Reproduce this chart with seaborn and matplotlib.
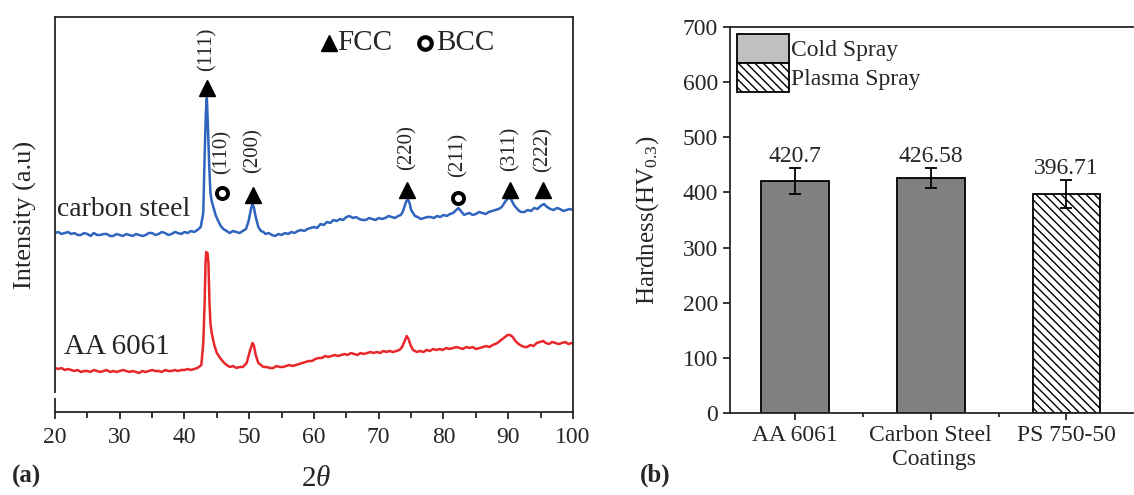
"""
XRD patterns of the cold spray coatings (a) and their hardness (b).
"""

import matplotlib
matplotlib.use("Agg")
import matplotlib.pyplot as plt
from matplotlib.patches import Patch, Rectangle
import numpy as np
import pandas as pd
import seaborn as sns

# ---- (a) XRD patterns (2theta, intensity a.u.) ----
steel_2theta = [
    20.0, 20.5, 21.0, 21.5, 22.0, 22.5, 23.0, 23.5, 24.0, 24.5,
    25.0, 25.5, 26.0, 26.5, 27.0, 27.5, 28.0, 28.5, 29.0, 29.5,
    30.0, 30.5, 31.0, 31.5, 32.0, 32.5, 33.0, 33.5, 34.0, 34.5,
    35.0, 35.5, 36.0, 36.5, 37.0, 37.5, 38.0, 38.5, 39.0, 39.5,
    40.0, 40.5, 41.0, 41.5, 42.0, 42.5, 42.9, 43.1, 43.3, 43.45,
    43.6, 43.8, 44.0, 44.2, 44.5, 44.8, 45.2, 45.6, 46.0, 46.5,
    47.0, 47.5, 48.0, 48.5, 49.0, 49.5, 49.9, 50.3, 50.5, 50.7,
    51.0, 51.4, 51.8, 52.2, 52.5, 53.0, 53.5, 54.0, 54.5, 55.0,
    55.5, 56.0, 56.5, 57.0, 57.5, 58.0, 58.5, 59.0, 59.5, 60.0,
    60.5, 61.0, 61.5, 62.0, 62.5, 63.0, 63.5, 64.0, 64.5, 65.0,
    65.5, 66.0, 66.5, 67.0, 67.5, 68.0, 68.5, 69.0, 69.5, 70.0,
    70.5, 71.0, 71.5, 72.0, 72.5, 73.0, 73.4, 73.7, 74.0, 74.2,
    74.5, 74.8, 75.0, 75.3, 75.6, 76.0, 76.5, 77.0, 77.5, 78.0,
    78.5, 79.0, 79.5, 80.0, 80.5, 81.0, 81.5, 81.8, 82.3, 82.8,
    83.2, 83.5, 84.0, 84.5, 85.0, 85.5, 86.0, 86.5, 87.0, 87.5,
    88.0, 88.5, 89.0, 89.3, 89.6, 90.1, 90.5, 90.8, 91.0, 91.4,
    91.7, 92.0, 92.5, 93.0, 93.5, 94.0, 94.5, 95.0, 95.5, 96.0,
    96.5, 97.0, 97.5, 98.0, 98.5, 99.0, 99.5, 100.0]
steel_counts = [
    180, 181, 179, 180, 181, 179, 180, 178, 178, 180,
    179, 177, 180, 178, 178, 179, 179, 177, 177, 179,
    178, 177, 179, 178, 177, 179, 178, 177, 178, 180,
    180, 178, 179, 181, 180, 178, 179, 181, 180, 179,
    181, 180, 182, 181, 183, 186, 200, 255, 300, 315,
    290, 250, 220, 212, 205, 198, 192, 187, 184, 182,
    180, 182, 181, 180, 182, 184, 192, 205, 209, 206,
    196, 186, 182, 181, 179, 180, 178, 177, 179, 178,
    180, 179, 181, 180, 182, 183, 182, 184, 185, 186,
    185, 189, 188, 191, 190, 193, 192, 194, 193, 196,
    197, 195, 196, 194, 193, 193, 195, 194, 193, 195,
    194, 195, 197, 196, 195, 197, 198, 201, 207, 211,
    214, 209, 203, 200, 197, 196, 194, 195, 196, 196,
    195, 197, 196, 198, 197, 199, 200, 202, 205, 201,
    198, 199, 200, 198, 199, 201, 200, 199, 201, 202,
    203, 204, 206, 209, 212, 216, 213, 209, 207, 204,
    202, 201, 201, 203, 202, 205, 204, 207, 209, 206,
    204, 203, 205, 204, 202, 203, 204, 203]

aa_2theta = [
    20.0, 20.5, 21.0, 21.5, 22.0, 22.5, 23.0, 23.5, 24.0, 24.5,
    25.0, 25.5, 26.0, 26.5, 27.0, 27.5, 28.0, 28.5, 29.0, 29.5,
    30.0, 30.5, 31.0, 31.5, 32.0, 32.5, 33.0, 33.5, 34.0, 34.5,
    35.0, 35.5, 36.0, 36.5, 37.0, 37.5, 38.0, 38.5, 39.0, 39.5,
    40.0, 40.5, 41.0, 41.5, 42.0, 42.6, 42.9, 43.1, 43.25, 43.35,
    43.55, 43.7, 43.85, 44.0, 44.2, 44.6, 45.0, 45.5, 46.0, 46.5,
    47.0, 47.5, 48.0, 48.5, 49.0, 49.6, 50.1, 50.5, 50.7, 51.0,
    51.4, 51.8, 52.2, 52.7, 53.2, 53.7, 54.2, 54.7, 55.2, 55.7,
    56.2, 56.7, 57.2, 57.7, 58.2, 58.7, 59.2, 59.7, 60.2, 60.7,
    61.2, 61.7, 62.2, 62.7, 63.2, 63.7, 64.2, 64.7, 65.2, 65.7,
    66.2, 66.7, 67.2, 67.7, 68.2, 68.7, 69.2, 69.7, 70.2, 70.7,
    71.2, 71.7, 72.2, 72.7, 73.2, 73.6, 74.0, 74.3, 74.6, 74.9,
    75.3, 75.9, 76.4, 76.9, 77.4, 77.9, 78.4, 78.9, 79.4, 79.9,
    80.4, 80.9, 81.5, 82.0, 82.5, 83.0, 83.5, 84.0, 84.5, 85.0,
    85.6, 86.1, 86.6, 87.1, 87.6, 88.0, 88.3, 88.7, 89.1, 89.5,
    89.9, 90.3, 90.7, 91.1, 91.6, 92.1, 92.5, 92.9, 93.4, 93.9,
    94.4, 94.9, 95.4, 95.8, 96.3, 96.8, 97.3, 97.8, 98.3, 98.8,
    99.3, 99.8, 100.0]
aa_counts = [
    45, 44, 45, 43, 44, 43, 42, 43, 41, 42,
    42, 41, 43, 42, 41, 42, 43, 41, 42, 41,
    42, 43, 42, 41, 42, 41, 40, 42, 41, 42,
    43, 42, 42, 41, 43, 42, 42, 43, 42, 43,
    43, 44, 43, 44, 45, 48, 70, 108, 150, 161,
    160, 150, 112, 90, 80, 68, 60, 55, 51, 48,
    46, 47, 45, 46, 46, 50, 62, 70, 68, 58,
    50, 48, 46, 46, 45, 45, 47, 46, 46, 47,
    48, 47, 48, 49, 50, 51, 52, 52, 54, 55,
    55, 57, 56, 57, 58, 57, 58, 59, 58, 60,
    59, 58, 60, 59, 60, 61, 60, 61, 60, 62,
    61, 62, 61, 62, 63, 66, 72, 77, 74, 68,
    63, 61, 62, 61, 63, 62, 64, 63, 64, 63,
    65, 64, 65, 66, 65, 64, 66, 65, 66, 64,
    65, 66, 67, 66, 68, 69, 70, 72, 74, 76,
    78, 78, 76, 72, 69, 67, 66, 66, 68, 67,
    70, 71, 72, 70, 69, 71, 70, 69, 70, 71,
    69, 70, 70]

# peak markers: 2theta, marker height, label height
peak_labels = ["(111)", "(110)", "(200)", "(220)", "(211)", "(311)", "(222)"]
peak_phase = ["FCC", "BCC", "FCC", "FCC", "BCC", "FCC", "FCC"]
peak_2theta = [43.5, 45.8, 50.6, 74.4, 82.3, 90.3, 95.4]
peak_marker_y = [325, 220, 218, 223, 215, 223, 223]
peak_label_y = [364, 261, 262, 265, 258, 264, 263]

# ---- (b) hardness ----
coatings = ["AA 6061", "Carbon Steel", "PS 750-50"]
spray_type = ["Cold Spray", "Cold Spray", "Plasma Spray"]
hardness = [420.7, 426.58, 396.71]
hardness_err = [23, 18, 25]
hardness_text = ["420.7", "426.58", "396.71"]
hardness_ticks = [0, 100, 200, 300, 400, 500, 600, 700]

BLUE = "#2f64be"
RED = "#e8272b"

sns.set_theme(style="ticks")
plt.rcParams["font.family"] = ["Liberation Serif", "DejaVu Serif"]
plt.rcParams["mathtext.fontset"] = "custom"
plt.rcParams["mathtext.rm"] = "Liberation Serif"
plt.rcParams["mathtext.it"] = "Liberation Serif:italic"
plt.rcParams["axes.linewidth"] = 1.3
plt.rcParams["hatch.linewidth"] = 1.0

fig = plt.figure(figsize=(11.34, 4.95), dpi=100)
ax1 = fig.add_axes([55 / 1134, 83 / 495, 518 / 1134, 395 / 495])
ax2 = fig.add_axes([730 / 1134, 82 / 495, 407 / 1134, 386 / 495])

# ---------------- (a) ----------------
steel = pd.DataFrame({"two_theta": steel_2theta, "intensity": steel_counts})
aa = pd.DataFrame({"two_theta": aa_2theta, "intensity": aa_counts})
sns.lineplot(data=steel, x="two_theta", y="intensity", ax=ax1, color=BLUE,
             lw=1.8, estimator=None, sort=False)
sns.lineplot(data=aa, x="two_theta", y="intensity", ax=ax1, color=RED,
             lw=1.8, estimator=None, sort=False)

for lab, ph, x, my, ly in zip(peak_labels, peak_phase, peak_2theta,
                              peak_marker_y, peak_label_y):
    if ph == "FCC":
        ax1.plot(x, my, marker="^", ms=11, color="black", ls="none")
    else:
        ax1.plot(x, my, marker="o", ms=8, mfc="white", mec="black",
                 mew=2.8, ls="none")
    ax1.text(x, ly, lab, rotation=90, ha="center", va="center",
             fontsize=15)

# phase key
ax1.plot(62.3, 370, marker="^", ms=12, color="black", ls="none")
ax1.text(63.6, 370, "FCC", fontsize=21, va="center", ha="left")
ax1.plot(77.1, 370, marker="o", ms=9, mfc="white", mec="black", mew=3,
         ls="none")
ax1.text(78.8, 370, "BCC", fontsize=21, va="center", ha="left")

ax1.text(20.3, 204, "carbon steel", fontsize=20, va="center", ha="left")
ax1.text(21.4, 66, "AA 6061", fontsize=21, va="center", ha="left")

ax1.set_xlim(20, 100)
ax1.set_ylim(1, 396)
ax1.set_xticks(np.arange(20, 101, 10))
ax1.set_xticks(np.arange(25, 100, 10), minor=True)
ax1.set_yticks([])
ax1.tick_params(axis="x", which="major", direction="out", length=5,
                width=1.3, labelsize=17, pad=6)
ax1.tick_params(axis="x", which="minor", direction="out", length=4,
                width=1.3)
ax1.set_xlabel("")
ax1.set_ylabel("Intensity (a.u)", fontsize=19)
ax1.yaxis.set_label_coords(-0.035, 0.5)
# small break in the intensity axis
ax1.add_patch(Rectangle((-0.01, 0.035), 0.02, 0.012, transform=ax1.transAxes,
                        facecolor="white", edgecolor="none", clip_on=False,
                        zorder=5))

fig.text(316 / 1134, 1 - 479 / 495, r"2$\it{\theta}$", fontsize=21,
         ha="center", va="center")
fig.text(12 / 1134, 1 - 476 / 495, "(a)", fontsize=18, fontweight="bold",
         ha="left", va="center")

# ---------------- (b) ----------------
hard = pd.DataFrame({"coating": coatings, "hardness": hardness,
                     "spray": spray_type})
sns.barplot(data=hard, x="coating", y="hardness", ax=ax2, width=0.5,
            color="#808080", edgecolor="black", linewidth=1.3,
            errorbar=None)
for bar, sp in zip(ax2.patches, spray_type):
    if sp == "Plasma Spray":
        bar.set_facecolor("white")
        bar.set_hatch("\\\\\\\\")
ax2.errorbar(range(len(coatings)), hardness, yerr=hardness_err, fmt="none",
             ecolor="black", elinewidth=1.3, capsize=4, capthick=1.3)
for i, (v, e, t) in enumerate(zip(hardness, hardness_err, hardness_text)):
    ax2.text(i, v + e + 21, t, ha="center", va="center", fontsize=17)

ax2.set_xlim(-0.48, 2.52)
ax2.set_ylim(0, 700)
ax2.set_yticks(hardness_ticks)
ax2.set_xticks([0.5, 1.5], minor=True)
ax2.tick_params(axis="both", which="major", direction="out", length=5,
                width=1.3, labelsize=17)
ax2.tick_params(axis="x", which="minor", direction="out", length=3,
                width=1.3)
ax2.set_xlabel("Coatings", fontsize=17, labelpad=2)
ax2.set_ylabel(r"Hardness(HV$_{0.3}$)", fontsize=18)
ax2.yaxis.set_label_coords(-0.17, 0.5)

handles = [Patch(facecolor="#c0c0c0", edgecolor="black", lw=1.3),
           Patch(facecolor="white", edgecolor="black", lw=1.3,
                 hatch="\\\\\\\\")]
ax2.legend(handles, ["Cold Spray", "Plasma Spray"], loc="upper left",
           frameon=False, fontsize=17, handlelength=2.2, handleheight=1.5,
           labelspacing=0.0, handletextpad=0.1, borderaxespad=0.3,
           borderpad=0.0)

fig.text(640 / 1134, 1 - 475 / 495, "(b)", fontsize=18, fontweight="bold",
         ha="left", va="center")

fig.savefig("out.png", dpi=100, facecolor="white")
